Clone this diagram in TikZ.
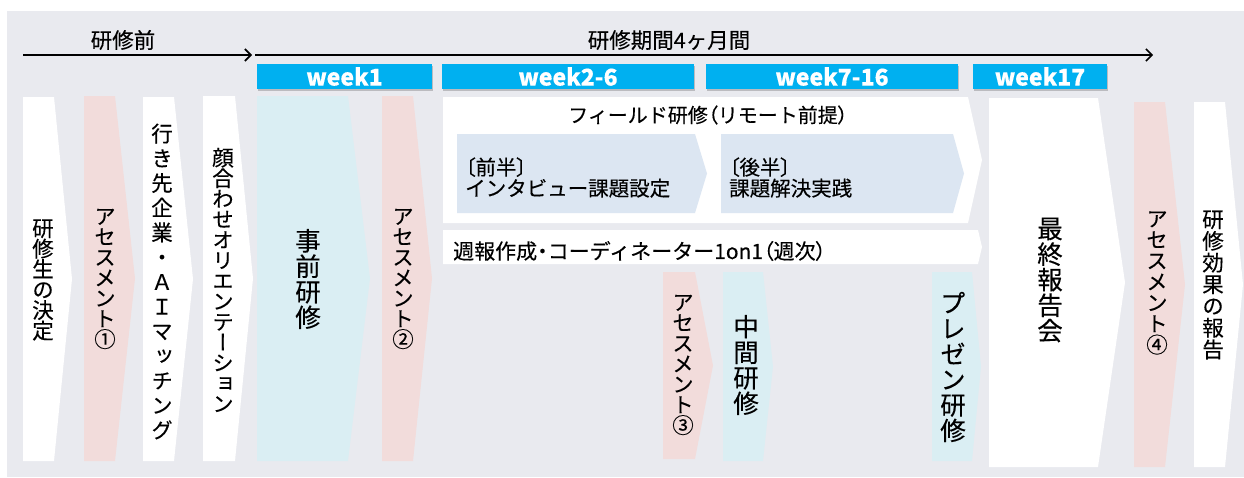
\documentclass[tikz,border=0pt]{standalone}
\usepackage{fontspec}
\setmainfont{Noto Sans CJK JP}[FakeBold=0.25]
\newfontfamily\jpv{Noto Sans CJK JP}[RawFeature=+vert,FakeBold=0.25]
\newfontfamily\jpp{Noto Sans CJK JP}[RawFeature=+palt,FakeBold=0.25]
\usetikzlibrary{arrows.meta,shadows}
\definecolor{bg}{RGB}{233,234,239}
\definecolor{pk}{RGB}{242,220,219}
\definecolor{lb}{RGB}{218,238,243}
\definecolor{ib}{RGB}{220,230,242}
\definecolor{cy}{RGB}{0,176,240}
% pentagon: xl, xr, xtip, top, bottom, colour
\newcommand\chev[6]{\fill[#6] (#1,#4) -- (#2,#4) -- (#3,{(#4+#5)/2}) -- (#2,#5) -- (#1,#5) -- cycle;}
\newcommand\pp[1]{{\jpp #1}}
\begin{document}
\begin{tikzpicture}[x=1pt,y=-1pt,
  vsm/.style={font=\jpv\fontsize{21.5}{20.5}\selectfont, align=center, inner sep=0pt},
  vlg/.style={font=\jpv\fontsize{25.5}{25.5}\selectfont, align=center, inner sep=0pt},
  wk/.style={fill=cy, text=white, inner sep=0pt,
    font=\bfseries\fontsize{23}{23}\selectfont,
    drop shadow={shadow xshift=1pt, shadow yshift=-1.5pt, opacity=0.35, fill=black!60}},
  htxt/.style={inner sep=0pt},
  tl/.style={line width=1.8pt, -{Straight Barb[length=6pt,width=12pt,line width=1.6pt]}}]
\useasboundingbox (0,0) rectangle (1244,477);
\fill[white] (0,0) rectangle (1244,477);
\fill[bg] (7,11) rectangle (1244,477);

% timeline arrows
\coordinate (a1s) at (23,55);
\coordinate (a1e) at (252,55);
\coordinate (a2s) at (255,55);
\coordinate (a2e) at (1153,55);
\draw[tl] (a1s) -- (a1e);
\draw[tl] (a2s) -- (a2e);
\node[htxt, font=\fontsize{21.5}{21.5}\selectfont] (pre) at (123,40) {研修前};
\node[htxt, font=\fontsize{21.5}{21.5}\selectfont] (per) at (669,40) {研修期間4ヶ月間};

% week labels
\node[wk, minimum width=175pt, minimum height=25pt] (w1) at (344.5,76.5) {week1};
\node[wk, minimum width=252pt, minimum height=25pt] (w2) at (568,76.5) {week2-6};
\node[wk, minimum width=252pt, minimum height=25pt] (w3) at (832,76.5) {week7-16};
\node[wk, minimum width=134pt, minimum height=25pt] (w4) at (1040,76.5) {week17};

% shapes
\chev{23}{54}{72}{97}{461}{white}
\chev{84}{115}{135}{96}{461}{pk}
\chev{143}{174}{193}{97}{461}{white}
\chev{203}{235}{253}{96}{461}{white}
\chev{257}{348}{370}{96}{461}{lb}
\chev{382}{413}{432}{96}{461}{pk}
\chev{443}{968}{982}{97}{223}{white}
\chev{457}{695}{707}{134}{213}{ib}
\chev{721}{953}{964}{134}{213}{ib}
\chev{443}{978}{982}{230}{264}{white}
\chev{663}{695}{713}{272}{459}{pk}
\chev{723}{763}{773}{272}{461}{lb}
\chev{932}{972}{981}{272}{461}{lb}
\chev{989}{1098}{1125}{98}{467}{white}
\chev{1134}{1165}{1185}{102}{467}{pk}
\chev{1194}{1225}{1243}{102}{467}{white}

% vertical texts
\node[vsm] (v1) at (43,280) {研\\修\\生\\の\\決\\定};
\node[vsm] (v2) at (105,279) {ア\\セ\\ス\\メ\\ン\\ト\\①};
\node[vsm, font=\jpv\fontsize{21.5}{24.7}\selectfont] (v3) at (162,281.5) {行\\き\\先\\企\\業\\・\\Ａ\\Ｉ\\マ\\ッ\\チ\\ン\\グ};
\node[vsm] (v4) at (223,280) {顔\\合\\わ\\せ\\オ\\リ\\エ\\ン\\テ\\ー\\シ\\ョ\\ン};
\node[vlg] (v5) at (308,279) {事\\前\\研\\修};
\node[vsm] (v6) at (403,279) {ア\\セ\\ス\\メ\\ン\\ト\\②};
\node[vsm] (v7) at (683,365) {ア\\セ\\ス\\メ\\ン\\ト\\③};
\node[vlg] (v8) at (746,365) {中\\間\\研\\修};
\node[vlg] (v9) at (953,367) {プ\\レ\\ゼ\\ン\\研\\修};
\node[vlg] (v10) at (1050,280) {最\\終\\報\\告\\会};
\node[vsm, font=\jpv\fontsize{21.5}{21}\selectfont] (v11) at (1157,283) {ア\\セ\\ス\\メ\\ン\\ト\\④};
\node[vsm, font=\jpv\fontsize{21.5}{21.7}\selectfont] (v12) at (1213,285) {研\\修\\効\\果\\の\\報\\告};

% horizontal texts
\node[htxt, font=\fontsize{20}{20}\selectfont] (fld) at (708,115) {フィールド研修\pp{（}リモート前提\pp{）}};
\node[htxt, anchor=west, align=left, font=\fontsize{20.5}{21}\selectfont] (h1) at (465,177.5) {\pp{〔}前半\pp{〕}\\インタビュー課題設定};
\node[htxt, anchor=west, align=left, font=\fontsize{20.5}{21}\selectfont] (h2) at (729,177.5) {\pp{〔}後半\pp{〕}\\課題解決実践};
\node[htxt, anchor=west, font=\fontsize{21}{21}\selectfont] (wkl) at (453,251) {週報作成\pp{・}コーディネーター1on1\pp{（}週次\pp{）}};
\end{tikzpicture}
\end{document}
